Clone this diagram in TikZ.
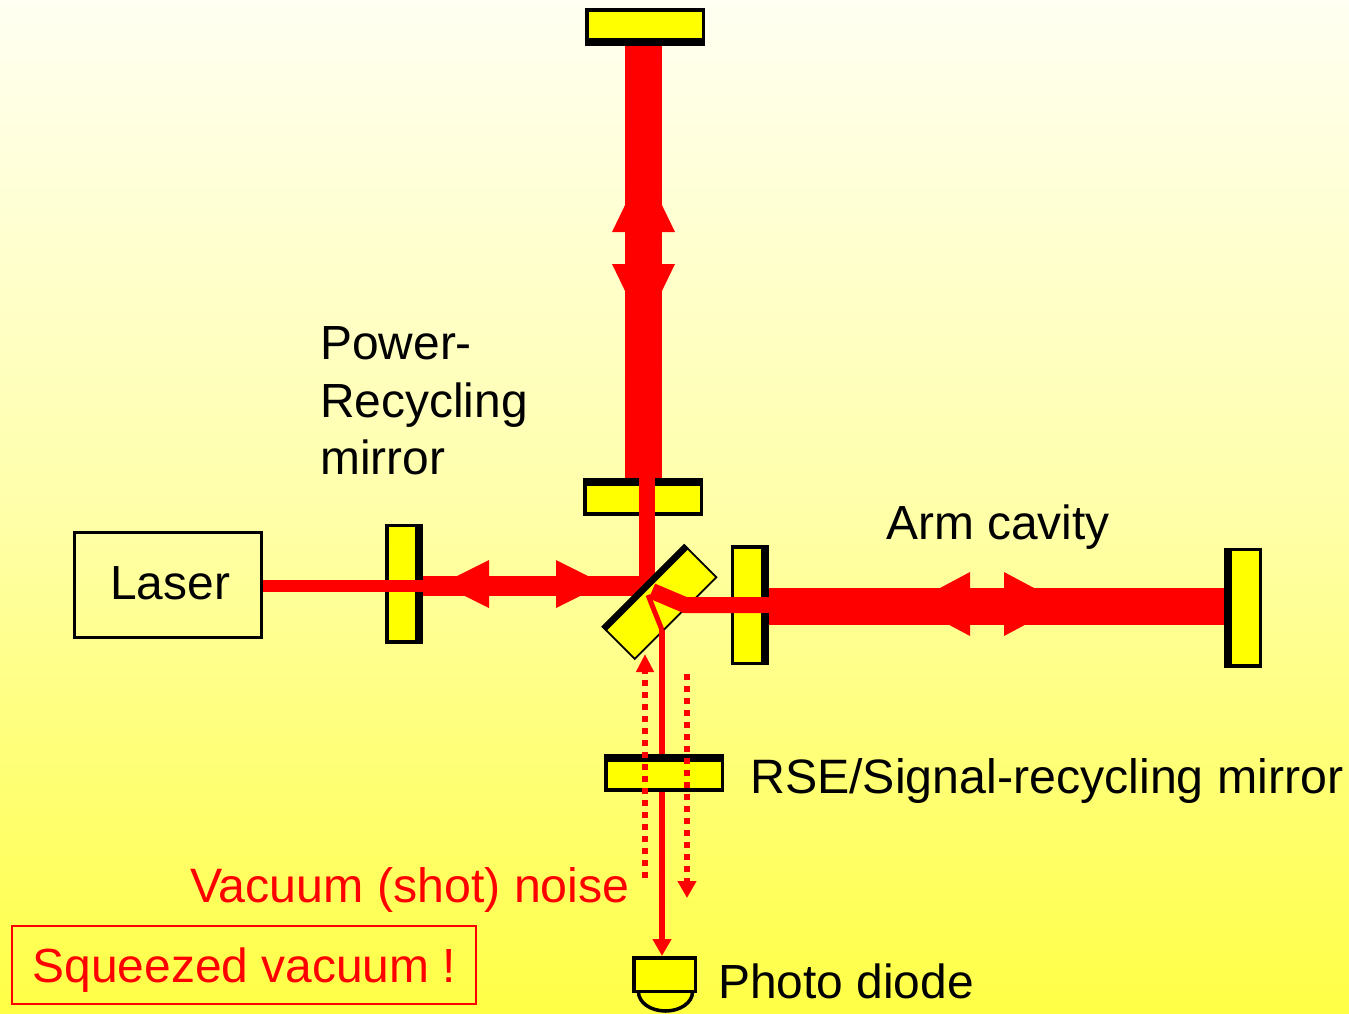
\documentclass[tikz,border=0pt]{standalone}
\usepackage{fontspec}
\setmainfont{Liberation Sans}
\usetikzlibrary{arrows.meta}
\definecolor{mirrorfill}{RGB}{255,255,0}
\definecolor{beamred}{RGB}{255,0,0}
\definecolor{slidetop}{RGB}{255,255,242}
\definecolor{slidemid}{RGB}{255,255,170}
\definecolor{slidebot}{RGB}{255,255,70}
\tikzset{
	mirrorh/.style={draw=black, fill=mirrorfill, line width=3.5pt, inner sep=0pt, minimum width=116.5pt, minimum height=34.5pt},
	mirrorv/.style={draw=black, fill=mirrorfill, line width=3.5pt, inner sep=0pt, minimum width=34.5pt, minimum height=116.5pt},
	bar/.style={draw=black, line width=8pt},
	beam/.style={draw=beamred, line width=#1},
	lobe/.style={fill=beamred},
	dotted beam/.style={draw=beamred, line width=6pt, dash pattern=on 6pt off 6pt},
	lbl/.style={font=\fontsize{47.9}{57.5}\selectfont, inner sep=0pt, anchor=base west},
	widelbl/.style={lbl, font=\fontsize{48.3}{57.5}\selectfont}
}
\begin{document}
\begin{tikzpicture}[x=1pt,y=-1pt]
	\useasboundingbox (0,0) rectangle (1349,1013);
	\shade [top color=slidetop, bottom color=slidebot, middle color=slidemid] (0,0) rectangle (1349,1013);

	\node [draw=black, line width=3pt, minimum width=187pt, minimum height=105pt] (laser) at (168,585) {};
	\node [lbl] (laserlbl) at (110,599) {Laser};

	\node [mirrorh] (etmn) at (645,27) {};
	\node [mirrorh] (itmn) at (643,496.5) {};
	\node [mirrorv] (prm) at (404,583.5) {};
	\node [mirrorv] (itme) at (749.5,605) {};
	\node [mirrorv] (etme) at (1243,607.5) {};

	% beams behind the splitter
	\draw [beam=37pt] ([xshift=-1.5pt]etmn.south) -- ([xshift=0.5pt]itmn.north);
	\fill [lobe] (612,232) -- (675,232) -- (643.5,167) -- cycle;
	\fill [lobe] (612,264) -- (675,264) -- (643.5,329) -- cycle;

	\coordinate (bsleft) at (650,586);
	\coordinate (bstop) at (647,590);
	\draw [beam=16pt] ([xshift=4pt]itmn.north) -- (bstop);
	\draw [beam=12pt] (laser.east |- bsleft) -- (prm.east |- bsleft);
	\draw [beam=20pt] (prm.east |- bsleft) -- (bsleft);
	\fill [lobe] (489,560) -- (489,608) -- (441,584) -- cycle;
	\fill [lobe] (556,560) -- (556,608) -- (604,584) -- cycle;

	\coordinate (bsout) at (662,630);
	\node [draw=black, fill=mirrorfill, line width=1.8pt, inner sep=0pt, minimum width=115.5pt, minimum height=45.5pt, rotate=45] (bs) at (659.5,602) {};

	\coordinate (bsrefl) at (652,591);
	\coordinate (bsbend) at (685,605);
	\draw [beam=16pt, line join=miter] (bsrefl) -- (bsbend) -- (itme.east |- bsbend);
	\draw [beam=37pt] (itme.east |- 0,606.5) -- (etme.west |- 0,606.5);
	\fill [lobe] (970,572) -- (970,636) -- (910,604) -- cycle;
	\fill [lobe] (1004,572) -- (1004,636) -- (1064,604) -- cycle;

	\draw [beam=5pt, line join=round] (648,595) -- (bsout);
	\draw [bar, line width=6.5pt] ([shift={(-45:3.25pt)}]bs.north west) -- ([shift={(-45:3.25pt)}]bs.north east);

	\draw [bar] ([yshift=4pt]etmn.south west) -- ([yshift=4pt]etmn.south east);
	\draw [bar] ([yshift=-4pt]itmn.north west) -- ([yshift=-4pt]itmn.north east);
	\draw [bar] ([xshift=-4pt]prm.north east) -- ([xshift=-4pt]prm.south east);
	\draw [bar] ([xshift=-4pt]itme.north east) -- ([xshift=-4pt]itme.south east);
	\draw [bar] ([xshift=4pt]etme.north west) -- ([xshift=4pt]etme.south west);

	% beams over the mirrors
	\draw [beam=16pt] ([xshift=4pt]itmn.north) -- ([xshift=4pt]itmn.south);
	\draw [beam=12pt] (prm.west |- bsleft) -- (prm.east |- bsleft);
	\draw [beam=16pt] (itme.west |- bsbend) -- (itme.east |- bsbend);

	% photo diode
	\draw [draw=black, fill=mirrorfill, line width=3.5pt] (638.5,992) arc [start angle=180, end angle=360, x radius=27pt, y radius=19pt];
	\node [draw=black, fill=mirrorfill, line width=3.5pt, inner sep=0pt, minimum width=61.5pt, minimum height=33.5pt] (pd) at (664.5,974.5) {};

	\draw [beam=6pt, -{Triangle[width=18pt,length=17pt]}] (bsout) -- (bsout |- pd.north);
	\node [mirrorh] (rse) at (664,772.5) {};
	\draw [bar] ([yshift=-4pt]rse.north west) -- ([yshift=-4pt]rse.north east);

	\coordinate (dotsa) at (645,878);
	\coordinate (dotsb) at (687,674);
	\draw [dotted beam, -{Triangle[width=17pt,length=18pt]}] (dotsa) -- (645,654);
	\draw [dotted beam, -{Triangle[width=18pt,length=17pt]}] (dotsb) -- (687,898);

	\node [lbl, align=left, anchor=north west] (prmlbl) at (320,326.5) {Power-\\Recycling\\mirror};
	\node [lbl] (armlbl) at (886,539) {Arm cavity};
	\node [widelbl] (rselbl) at (750,793) {RSE/Signal-recycling mirror};
	\node [lbl] (pdlbl) at (718,998) {Photo diode};
	\node [widelbl, text=beamred] (vaclbl) at (190,902) {Vacuum (shot) noise};
	\node [draw=beamred, line width=2pt, minimum width=464pt, minimum height=78pt] (sqz) at (243.5,964.5) {};
	\node [lbl, text=beamred] (sqzlbl) at (32.5,982) {Squeezed vacuum !};
\end{tikzpicture}
\end{document}
